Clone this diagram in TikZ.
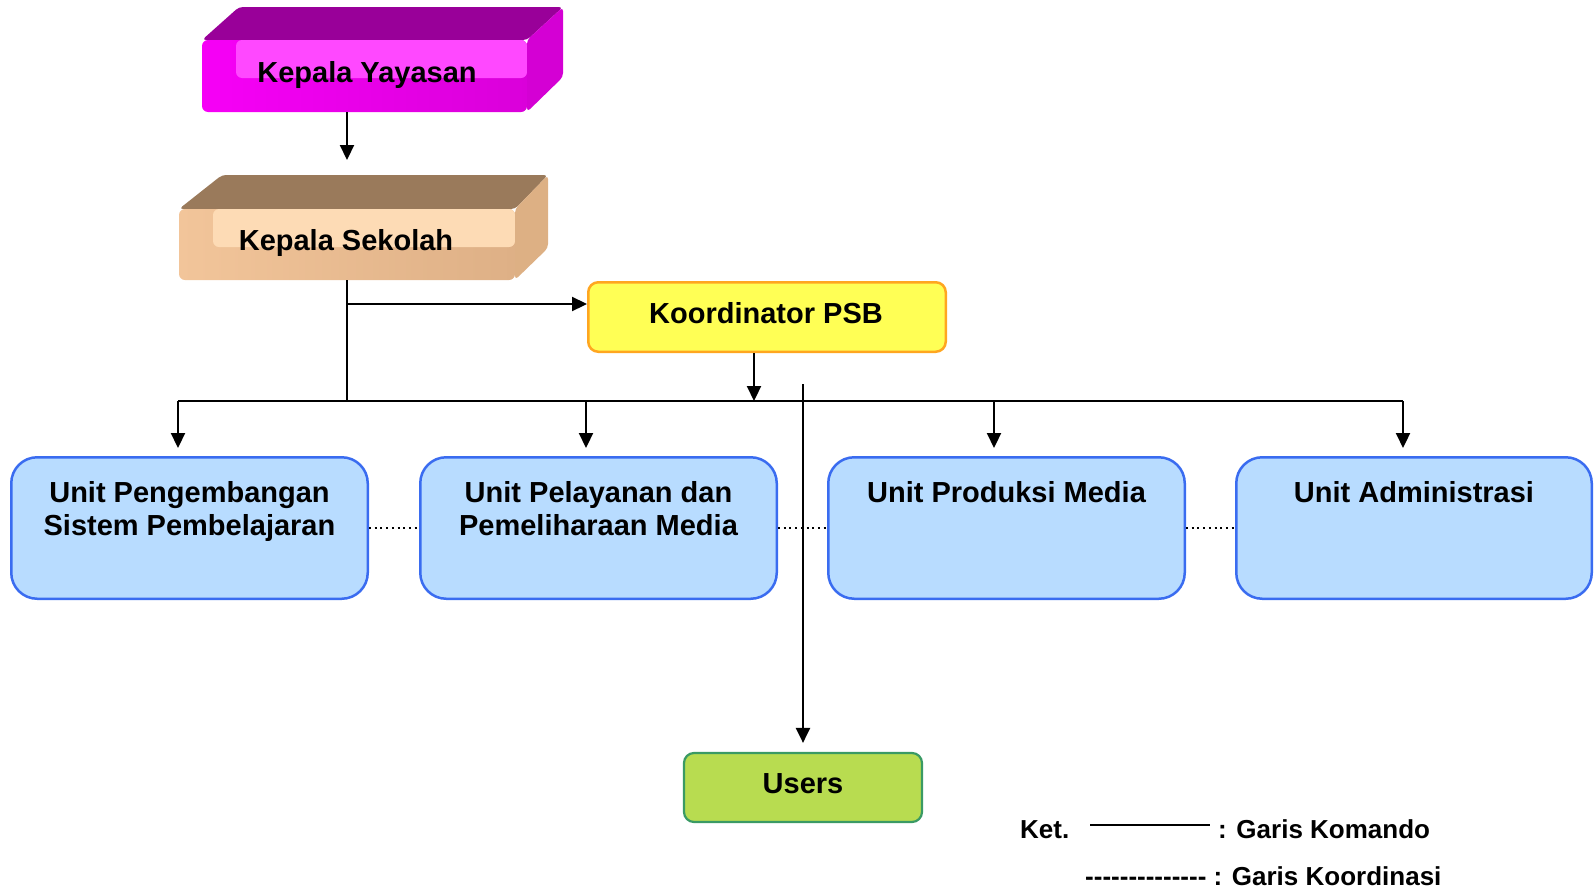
\documentclass[tikz,border=0pt]{standalone}
\usepackage{fontspec}
\setmainfont{Liberation Sans}[Ligatures=TeXOff]
\usetikzlibrary{arrows.meta,calc}
\definecolor{ytop}{HTML}{990099}
\definecolor{yfront}{HTML}{DA00DA}
\definecolor{yleft}{HTML}{F600F6}
\definecolor{ypanel}{HTML}{FF48FF}
\definecolor{yside}{HTML}{D400D4}
\definecolor{stop}{HTML}{9A7A5B}
\definecolor{sfront}{HTML}{DEB086}
\definecolor{sleft}{HTML}{F2C59A}
\definecolor{spanel}{HTML}{FDDBB5}
\definecolor{sside}{HTML}{DDB084}
\definecolor{psbfill}{HTML}{FFFF55}
\definecolor{psbdraw}{HTML}{FFA620}
\definecolor{unitfill}{HTML}{B8DCFF}
\definecolor{unitdraw}{HTML}{3A6CF0}
\definecolor{usfill}{HTML}{B8DC50}
\definecolor{usdraw}{HTML}{3A9A64}
\begin{document}
\begin{tikzpicture}[x=1pt,y=-1pt,
  lbl/.style={font=\bfseries\fontsize{29}{33}\selectfont, inner sep=0pt, anchor=base, align=center},
  leg/.style={font=\bfseries\fontsize{26}{30}\selectfont, inner sep=0pt, anchor=base west},
  cmd/.style={line width=2.2pt, draw=black},
  arr/.style={cmd, -{Triangle[width=14pt,length=15pt]}},
  dotl/.style={line width=2pt, dash pattern=on 2pt off 3.7pt},
  unitbox/.style={draw=unitdraw, fill=unitfill, line width=2.5pt, rounded corners=26pt,
    minimum width=356.5pt, minimum height=141.5pt, inner sep=0pt},
  facebox/.style={inner sep=0pt, outer sep=0pt, rounded corners=6pt}]
\useasboundingbox (0,0) rectangle (1595,889);

% Kepala Yayasan (3D block)
\fill[ytop, rounded corners=4pt] (202,40) -- (239,7) -- (563,7) -- (527,40) -- cycle;
\node[facebox, left color=yleft, right color=yfront, minimum width=325pt, minimum height=72pt] (ky) at (364.5,76) {};
\fill[ypanel, rounded corners=6pt] (236,40) -- (236,78) -- (527,78) -- (527,40) -- cycle;
\fill[yside, rounded corners=4pt] (527,40) -- (563,7) -- (563,77) -- (527,112) -- cycle;
\node[lbl] (kyt) at (367,82) {Kepala Yayasan};

% Kepala Sekolah (3D block)
\fill[stop, rounded corners=4pt] (179,209) -- (222,175) -- (548,175) -- (515,209) -- cycle;
\node[facebox, left color=sleft, right color=sfront, minimum width=336pt, minimum height=71pt] (ks) at (347,244.5) {};
\fill[spanel, rounded corners=6pt] (213,209) -- (213,247) -- (515,247) -- (515,209) -- cycle;
\fill[sside, rounded corners=4pt] (515,209) -- (548,175) -- (548,248) -- (515,280) -- cycle;
\node[lbl] (kst) at (346,250) {Kepala Sekolah};

% Koordinator PSB
\node[draw=psbdraw, fill=psbfill, line width=2.5pt, rounded corners=10pt, minimum width=357.5pt, minimum height=69.5pt, inner sep=0pt] (psb) at (767,317) {};
\node[lbl] (psbt) at (766,323) {Koordinator PSB};

% Units
\node[unitbox] (u1) at (189.5,528) {};
\node[unitbox] (u2) at (598.5,528) {};
\node[unitbox] (u3) at (1006.5,528) {};
\node[unitbox, minimum width=355.5pt] (u4) at (1414,528) {};
\node[lbl] (u1t) at (189.5,535) {Unit Pengembangan\\Sistem Pembelajaran};
\node[lbl] (u2t) at (598.5,535) {Unit Pelayanan dan\\Pemeliharaan Media};
\node[lbl] (u3t) at (1006.5,502) {Unit Produksi Media};
\node[lbl] (u4t) at (1414,502) {Unit Administrasi};

% Users
\node[draw=usdraw, fill=usfill, line width=2.2pt, rounded corners=10pt, minimum width=238pt, minimum height=69pt, inner sep=0pt] (users) at (803,787.5) {};
\node[lbl] (ust) at (803,793) {Users};

% Command lines
\draw[arr] (ky.south -| ks.south) -- ++(0,48);
\coordinate (b1) at (178,401);
\coordinate (b2) at (586,401);
\coordinate (b3) at (994,401);
\coordinate (b4) at (1403,401);
\draw[cmd] (ks.south) -- (ks.south |- b1);
\coordinate (kb) at (347,304);
\draw[arr] (kb) -- (kb -| psb.west);
\draw[cmd] (b1) -- (b4);
\draw[arr, shorten >=8pt] (b1) -- (b1 |- u1.north);
\draw[arr, shorten >=8pt] (b2) -- (b2 |- u2.north);
\draw[arr, shorten >=8pt] (b3) -- (b3 |- u3.north);
\draw[arr, shorten >=8pt] (b4) -- (b4 |- u4.north);
\draw[arr] ($(psb.south)+(-13,0)$) -- ++(0,48);
\coordinate (ut) at (803,384);
\draw[arr, shorten >=9pt] (ut) -- (users.north);

% Coordination lines
\draw[dotl] (u1.east) -- (u2.west);
\draw[dotl] (u2.east) -- (u3.west);
\draw[dotl] (u3.east) -- (u4.west);

% Legend
\node[leg] (ket) at (1020,838) {Ket.};
\coordinate (l1) at (1090,825);
\coordinate (l2) at (1210,825);
\draw[line width=2pt] (l1) -- (l2);
\node[leg] (kom) at (1218,838) {: Garis Komando};
\node[leg] (koo) at (1085,885) {-------------- : Garis Koordinasi};
\end{tikzpicture}
\end{document}
